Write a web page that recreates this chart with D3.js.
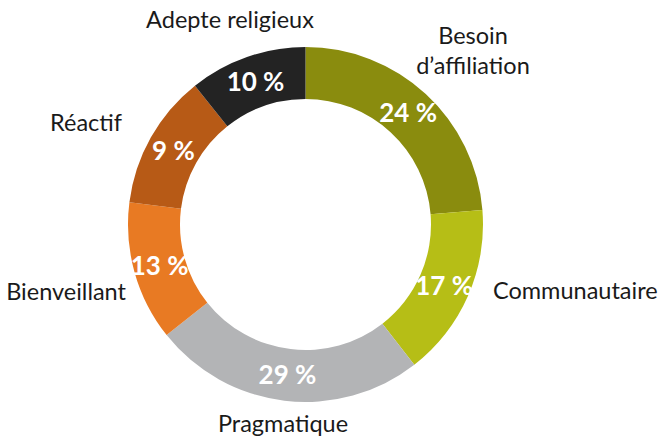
<!DOCTYPE html>
<html>
<head>
<meta charset="utf-8">
<script src="https://cdn.jsdelivr.net/npm/d3@7"></script>
<style>
  body { margin: 0; background: #fff; }
  text { font-family: Lato, "Open Sans", sans-serif; }
</style>
</head>
<body>
<div id="chart-area"></div>
<script>
// segments, clockwise from 12 o'clock
var categories = ['Besoin d\u2019affiliation', 'Communautaire', 'Pragmatique', 'Bienveillant', 'R\u00e9actif', 'Adepte religieux'];
// arc sizes as drawn in the picture
var shares = [23.7, 15.8, 24.8, 12.7, 12.3, 10.7];
// percentage labels as printed
var pctLabels = ['24 %', '17 %', '29 %', '13 %', '9 %', '10 %'];
var colors = ['#8a8c0e', '#b6be16', '#b3b4b6', '#e87a23', '#b75a16', '#232323'];

var width = 659, height = 438;
var cx = 305.5, cy = 224.5;
var outerR = 177.5, innerR = 125.5;

// where the category names sit [x, y, anchor]
var namePos = [
    [473, 44, 'middle'],
    [493, 299, 'start'],
    [283, 432, 'middle'],
    [126, 300, 'end'],
    [122, 131, 'end'],
    [230, 28, 'middle']
];

var svg = d3.select('#chart-area')
    .append('svg')
    .attr('width', width)
    .attr('height', height);

var g = svg.append('g')
    .attr('transform', `translate(${cx}, ${cy})`);

var pie = d3.pie().sort(null).value(d => d);
var arc = d3.arc().innerRadius(innerR).outerRadius(outerR);

var arcs = pie(shares);

g.selectAll('path')
    .data(arcs)
    .enter()
    .append('path')
    .attr('d', arc)
    .attr('fill', (d, i) => colors[i]);

g.selectAll('.pct')
    .data(arcs)
    .enter()
    .append('text')
    .attr('class', 'pct')
    .attr('transform', d => `translate(${arc.centroid(d)})`)
    .attr('text-anchor', 'middle')
    .attr('dy', '0.36em')
    .attr('fill', '#fff')
    .attr('font-weight', 'bold')
    .attr('font-size', '26px')
    .text((d, i) => pctLabels[i]);

svg.selectAll('.name')
    .data(categories)
    .enter()
    .append('text')
    .attr('class', 'name')
    .attr('x', (d, i) => namePos[i][0])
    .attr('y', (d, i) => namePos[i][1])
    .attr('text-anchor', (d, i) => namePos[i][2])
    .attr('fill', '#1a1a1a')
    .attr('font-size', '23.5px')
    .each(function (d) {
        var parts = d.indexOf('\u2019') > 0 ? ['Besoin', 'd\u2019affiliation'] : [d];
        var t = d3.select(this);
        var x = t.attr('x');
        parts.forEach((p, k) => {
            t.append('tspan').attr('x', x).attr('dy', k === 0 ? 0 : '30px').text(p);
        });
    });
</script>
</body>
</html>
